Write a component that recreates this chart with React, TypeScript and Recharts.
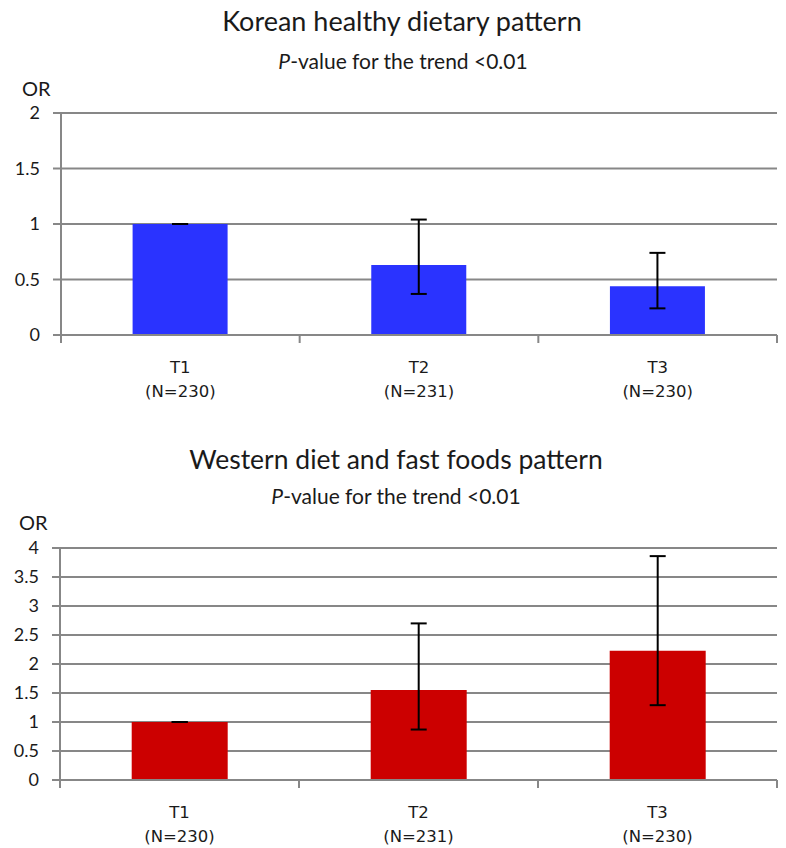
import React from 'react';
import { BarChart, Bar, XAxis, YAxis, CartesianGrid, ErrorBar } from 'recharts';

const CATEGORIES = ['T1', 'T2', 'T3'];
const COUNTS = ['(N=230)', '(N=231)', '(N=230)'];

// Korean healthy dietary pattern
const KOREAN_OR = [1.0, 0.63, 0.44];
const KOREAN_LOW = [1.0, 0.37, 0.24];
const KOREAN_HIGH = [1.0, 1.04, 0.74];
const KOREAN_TICKS = [0, 0.5, 1, 1.5, 2];

// Western diet and fast foods pattern
const WESTERN_OR = [1.0, 1.55, 2.23];
const WESTERN_LOW = [1.0, 0.87, 1.29];
const WESTERN_HIGH = [1.0, 2.7, 3.86];
const WESTERN_TICKS = [0, 0.5, 1, 1.5, 2, 2.5, 3, 3.5, 4];

const GRAY = '#878787';
const TITLE_FONT = 'Lato, "Open Sans", sans-serif';
const TICK_FONT = '"DejaVu Sans", Verdana, sans-serif';

const buildRows = (or: number[], low: number[], high: number[]) =>
    CATEGORIES.map((c, i) => ({
        name: c,
        count: COUNTS[i],
        or: or[i],
        err: [or[i] - low[i], high[i] - or[i]],
    }));

const CategoryTick = (props: any) => {
    const { x, y, payload, index } = props;
    const half = payload?.offset ?? 119.3;
    const i = payload?.index ?? index;
    return (
        <g>
            <line x1={x - half} y1={y} x2={x - half} y2={y + 8} stroke={GRAY} strokeWidth={2} />
            {i === CATEGORIES.length - 1 && (
                <line x1={x + half} y1={y} x2={x + half} y2={y + 8} stroke={GRAY} strokeWidth={2} />
            )}
            <text x={x} y={y + 38} textAnchor="middle" fontFamily={TICK_FONT} fontSize={16.5} fill="#1a1a1a">
                {payload.value}
            </text>
            <text x={x} y={y + 62} textAnchor="middle" fontFamily={TICK_FONT} fontSize={16.5} fill="#1a1a1a">
                {COUNTS[i]}
            </text>
        </g>
    );
};

interface PanelProps {
    rows: any[];
    ticks: number[];
    color: string;
    height: number;
    margin: { top: number; right: number; bottom: number; left: number };
    axisHeight: number;
}

const Panel: React.FC<PanelProps> = ({ rows, ticks, color, height, margin, axisHeight }) => (
    <BarChart width={786} height={height} data={rows} margin={margin} barCategoryGap="30%">
        <CartesianGrid vertical={false} stroke={GRAY} strokeWidth={2} />
        <XAxis
            dataKey="name"
            height={axisHeight}
            axisLine={{ stroke: GRAY, strokeWidth: 2 }}
            tickLine={false}
            tickSize={0}
            tickMargin={0}
            interval={0}
            tick={<CategoryTick />}
        />
        <YAxis
            width={50}
            domain={[0, ticks[ticks.length - 1]]}
            ticks={ticks}
            interval={0}
            axisLine={{ stroke: GRAY, strokeWidth: 2 }}
            tickLine={{ stroke: GRAY, strokeWidth: 2 }}
            tickSize={8}
            tickMargin={13}
            tick={{ fontFamily: TITLE_FONT, fontSize: 18, fill: '#1a1a1a' }}
        />
        <Bar dataKey="or" fill={color} isAnimationActive={false}>
            <ErrorBar dataKey="err" width={8} stroke="#000" strokeWidth={2} direction="y" />
        </Bar>
    </BarChart>
);

const Label = ({ top, left, size, children, center, dx = 0 }: any) => (
    <div
        style={{
            position: 'absolute',
            top,
            left: center ? dx : left,
            width: center ? 786 : undefined,
            textAlign: center ? 'center' : 'left',
            fontFamily: TITLE_FONT,
            fontSize: size,
            lineHeight: 1,
            color: '#1a1a1a',
            whiteSpace: 'nowrap',
        }}
    >
        {children}
    </div>
);

export default function App() {
    const korean = buildRows(KOREAN_OR, KOREAN_LOW, KOREAN_HIGH);
    const western = buildRows(WESTERN_OR, WESTERN_LOW, WESTERN_HIGH);

    return (
        <div style={{ position: 'absolute', left: 0, top: 0, width: 786, height: 848, background: '#fff' }}>
            <div style={{ position: 'absolute', left: 0, top: 0 }}>
                <Panel
                    rows={korean}
                    ticks={KOREAN_TICKS}
                    color="#2a33ff"
                    height={410}
                    margin={{ top: 113, right: 9, bottom: 15, left: 11 }}
                    axisHeight={60}
                />
            </div>
            <div style={{ position: 'absolute', left: 0, top: 420 }}>
                <Panel
                    rows={western}
                    ticks={WESTERN_TICKS}
                    color="#cc0000"
                    height={428}
                    margin={{ top: 128, right: 9, bottom: 8, left: 10 }}
                    axisHeight={60}
                />
            </div>

            <Label top={7} center dx={9} size={27}>Korean healthy dietary pattern</Label>
            <Label top={50} center dx={10} size={21}><i>P</i>-value for the trend &lt;0.01</Label>
            <Label top={78} left={22} size={20}>OR</Label>

            <Label top={446} center dx={3} size={26.5}>Western diet and fast foods pattern</Label>
            <Label top={485} center dx={3} size={21}><i>P</i>-value for the trend &lt;0.01</Label>
            <Label top={512} left={19} size={20}>OR</Label>
        </div>
    );
}
